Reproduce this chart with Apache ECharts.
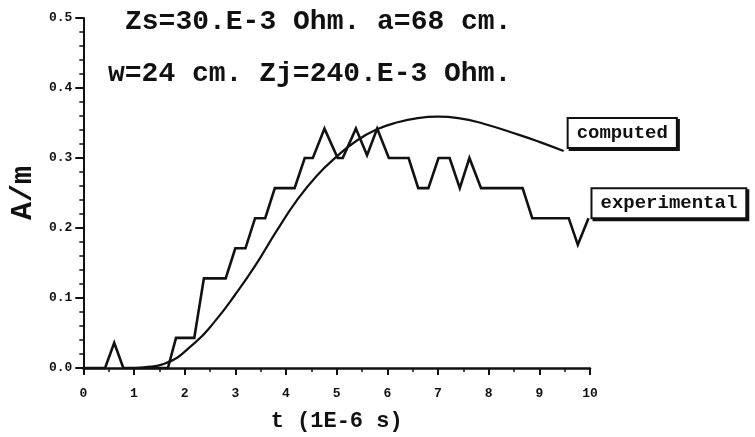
<!DOCTYPE html>
<html><head><meta charset="utf-8">
<script src="https://cdn.jsdelivr.net/npm/echarts@6/dist/echarts.min.js"></script>
<style>html,body{margin:0;padding:0;background:#fff}#c{width:755px;height:437px}</style>
</head><body><div id="c"></div>
<script>
const titleLines = ["Zs=30.E-3 Ohm. a=68 cm.", "w=24 cm. Zj=240.E-3 Ohm."];
const seriesNames = ["computed", "experimental"];
const xAxisName = "t (1E-6 s)";
const yAxisName = "A/m";
const xTicks = [0, 1, 2, 3, 4, 5, 6, 7, 8, 9, 10];
const yTicks = [0.0, 0.1, 0.2, 0.3, 0.4, 0.5];

const expT = [0, 0.43, 0.61, 0.79, 1.67, 1.83, 2.19, 2.38, 2.81, 3.0, 3.2, 3.39, 3.59, 3.78, 4.17, 4.37, 4.53, 4.76, 5.02, 5.12, 5.38, 5.6, 5.8, 6.03, 6.42, 6.61, 6.81, 7.01, 7.23, 7.43, 7.62, 7.85, 8.67, 8.86, 9.58, 9.76, 9.97];
const expV = [0, 0, 0.036, 0, 0, 0.043, 0.043, 0.128, 0.128, 0.171, 0.171, 0.214, 0.214, 0.257, 0.257, 0.3, 0.3, 0.342, 0.3, 0.3, 0.342, 0.304, 0.342, 0.3, 0.3, 0.257, 0.257, 0.3, 0.3, 0.257, 0.3, 0.257, 0.257, 0.214, 0.214, 0.176, 0.214];

const compT = [1.0, 1.2, 1.6, 2.2, 2.6, 3.0, 3.4, 3.8, 4.2, 4.6, 5.0, 5.4, 5.8, 6.2, 6.6, 7.0, 7.4, 7.9, 8.6, 9.0, 9.48];
const compV = [0, 0.001, 0.006, 0.036, 0.067, 0.105, 0.147, 0.194, 0.238, 0.274, 0.302, 0.325, 0.341, 0.351, 0.357, 0.359, 0.357, 0.349, 0.333, 0.323, 0.31];

const INK = '#111';
const MONO = '"Liberation Mono", "DejaVu Sans Mono", monospace';

const chart = echarts.init(document.getElementById('c'), null, {renderer: 'canvas'});

function boxLabel(offset) {
  return {
    show: true,
    formatter: p => p.seriesName,
    fontFamily: MONO, fontWeight: 'bold', fontSize: 19, color: INK,
    backgroundColor: '#fff', borderColor: INK, borderWidth: 2,
    padding: [5, 8, 4, 8],
    shadowColor: INK, shadowBlur: 0, shadowOffsetX: 2, shadowOffsetY: 2,
    distance: 0, offset: offset
  };
}

chart.setOption({
  animation: false,
  backgroundColor: '#fff',
  grid: {left: 78, right: 165, top: 18, bottom: 68, containLabel: false},
  graphic: [
    {type: 'text', left: 125, top: 8, style: {text: titleLines[0], font: 'bold 28px ' + MONO, fill: INK}},
    {type: 'text', left: 108, top: 60, style: {text: titleLines[1], font: 'bold 28px ' + MONO, fill: INK}}
  ],
  xAxis: {
    type: 'value', min: xTicks[0], max: xTicks[xTicks.length - 1], interval: 1,
    name: xAxisName, nameLocation: 'middle', nameGap: 42,
    nameTextStyle: {fontFamily: MONO, fontWeight: 'bold', fontSize: 22, color: INK},
    axisLine: {show: true, lineStyle: {color: INK, width: 2.5}},
    axisTick: {show: true, length: 7, lineStyle: {color: INK, width: 2}},
    minorTick: {show: true, splitNumber: 2, length: 4, lineStyle: {color: INK, width: 1.5}},
    splitLine: {show: false},
    axisLabel: {fontFamily: MONO, fontWeight: 'bold', fontSize: 13, color: INK, margin: 19,
      formatter: v => String(Math.round(v))}
  },
  yAxis: {
    type: 'value', min: yTicks[0], max: yTicks[yTicks.length - 1], interval: 0.1,
    name: yAxisName, nameLocation: 'middle', nameGap: 40, nameRotate: 90,
    nameTextStyle: {fontFamily: MONO, fontWeight: 'bold', fontSize: 30, color: INK},
    axisLine: {show: true, lineStyle: {color: INK, width: 2}},
    axisTick: {show: true, length: 8, lineStyle: {color: INK, width: 2}},
    minorTick: {show: true, splitNumber: 5, length: 4, lineStyle: {color: INK, width: 1.5}},
    splitLine: {show: false},
    axisLabel: {fontFamily: MONO, fontWeight: 'bold', fontSize: 13, color: INK, margin: 11,
      formatter: v => v.toFixed(1)}
  },
  series: [
    {
      name: seriesNames[0], type: 'line', smooth: true, symbol: 'none', clip: false,
      data: compT.map((t, i) => [t, compV[i]]),
      lineStyle: {color: INK, width: 2.2},
      endLabel: boxLabel([5, -18])
    },
    {
      name: seriesNames[1], type: 'line', smooth: false, symbol: 'none', clip: false,
      data: expT.map((t, i) => [t, expV[i]]),
      lineStyle: {color: INK, width: 2.6, join: 'miter'},
      endLabel: boxLabel([4, -15])
    }
  ]
});
</script></body></html>
